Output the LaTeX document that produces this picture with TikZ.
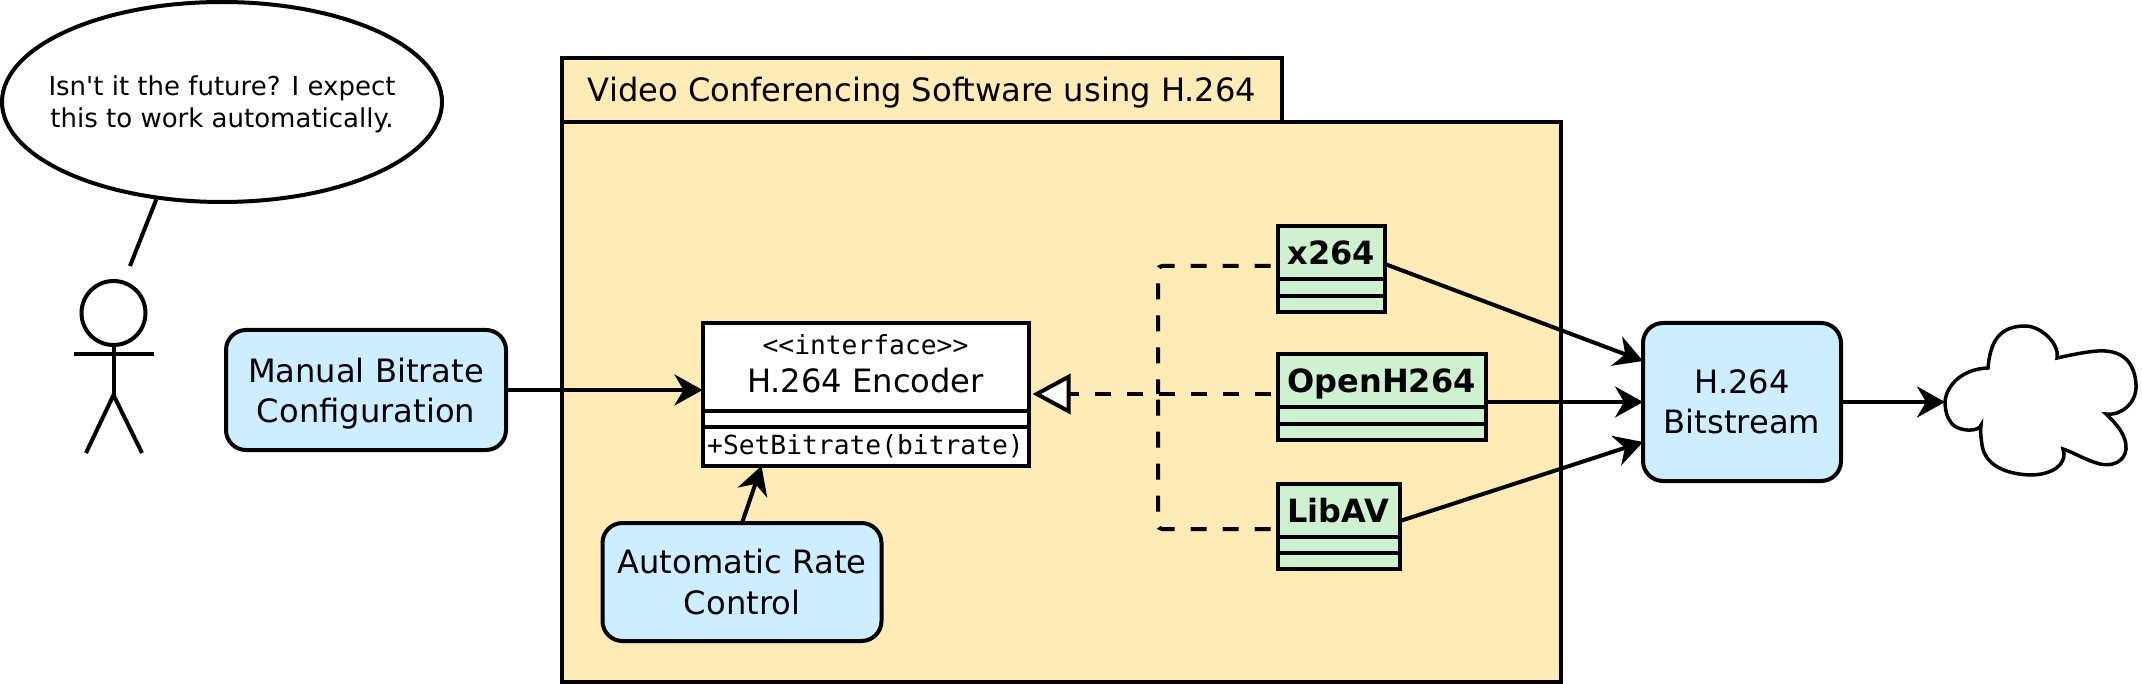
\documentclass[tikz,border=0pt]{standalone}
\usepackage{fontspec}
\setmainfont{DejaVu Sans}
\setmonofont{DejaVu Sans Mono}
\newfontfamily\speechfont{DejaVu Sans}
\usetikzlibrary{arrows.meta,shapes.geometric,shapes.multipart}

\definecolor{packfill}{HTML}{FEEBB5}
\definecolor{implfill}{HTML}{CEF2D0}
\definecolor{boxfill}{HTML}{CCEEFF}

\begin{document}
\begin{tikzpicture}[
    x = 1pt,
    y = -1pt,
    line width = 4pt,
    >={Stealth[length=28pt,width=31pt,inset=9pt]},
    label/.style = {
      font = \fontsize{32.15}{40.5}\selectfont
    },
    pack/.style = {
      draw,
      fill = packfill,
      anchor = north west,
      inner sep = 0pt,
      outer sep = 0pt,
      label
    },
    usecase/.style = {
      draw,
      fill = boxfill,
      rounded corners = 20pt,
      align = center,
      inner sep = 0pt,
      outer sep = 0pt,
      label
    },
    impl/.style = {
      draw,
      fill = implfill,
      anchor = north west,
      rectangle split,
      rectangle split parts = 3,
      rectangle split part align = left,
      rectangle split empty part height = 0pt,
      rectangle split empty part depth = 0pt,
      inner xsep = 10pt,
      inner ysep = 3.5pt,
      outer sep = 0pt,
      font = \fontsize{32}{40}\selectfont\bfseries
    },
    realize/.style = {
      dash pattern = on 16pt off 16pt,
      dash phase = 25pt,
      rounded corners = 4pt
    }
  ]
  \useasboundingbox (0,0) rectangle (2142,684);

  \node[pack, minimum width = 999pt, minimum height = 560pt] (body) at (562,122) {};
  \node[pack, minimum width = 720pt, minimum height = 64pt] (tab) at (562,58) {\rule{0pt}{30pt}Video Conferencing Software using H.264};

  \node[draw, ellipse, inner xsep = -25pt, inner ysep = 0pt, minimum width = 440pt, minimum height = 200pt, align = center,
    font = \fontsize{26}{32}\speechfont] (speech) at (222,102)
    {\rule{0pt}{24pt}Isn't it the future? I expect\\this to work automatically.};

  \node[draw, circle, inner sep = 0pt, outer sep = 0pt, minimum size = 64pt] (head) at (113.5,313) {};
  \coordinate (tail) at (130,266);
  \coordinate (armleft) at (74,354);
  \coordinate (armright) at (154,354);
  \coordinate (hip) at (113.5,395);
  \coordinate (footleft) at (86,453);
  \coordinate (footright) at (142,453);

  \draw (speech.236.8) -- (tail);
  \draw (armleft) -- (armright);
  \draw (head.south) -- (hip);
  \draw (footleft) -- (hip) -- (footright);

  \node[usecase, minimum width = 280pt, minimum height = 120pt] (manual) at (366,390) {\rule{0pt}{32pt}Manual Bitrate\\Configuration};
  \node[usecase, minimum width = 279pt, minimum height = 118pt] (auto) at (742,582) {Automatic Rate\\Control};
  \node[usecase, minimum width = 198pt, minimum height = 158pt] (bitstream) at (1742,402) {H.264\\Bitstream};

  \node[draw, fill = white, rectangle split, rectangle split parts = 3,
    rectangle split empty part height = 0pt, rectangle split empty part depth = 0pt,
    minimum width = 326pt, inner xsep = 0pt, inner ysep = 3.5pt, outer sep = 0pt,
    anchor = north west] (encoder) at (702.5,323.5)
    {\parbox{320pt}{\centering\fontsize{26.3}{39}\selectfont\ttfamily\rule{0pt}{25.5pt}<<interface>>\par
      \fontsize{32.15}{38}\selectfont\rmfamily H.264 Encoder\rule[-13pt]{0pt}{19pt}\par}
    \nodepart{two}
    \nodepart{three}\fontsize{26.3}{30}\selectfont\ttfamily\rule[-5.5pt]{0pt}{27.5pt}+SetBitrate(bitrate)};

  \node[impl, minimum width = 106.5pt] (x264) at (1277.5,226.5)
    {\rule[-9pt]{0pt}{42pt}x264 \nodepart{two} \nodepart{three}};
  \node[impl, minimum width = 206.5pt] (openh264) at (1277.5,354.5)
    {\rule[-9pt]{0pt}{42pt}OpenH264 \nodepart{two} \nodepart{three}};
  \node[impl, minimum width = 122.5pt] (libav) at (1277.5,483.5)
    {\rule[-9pt]{0pt}{42pt}LibAV \nodepart{two} \nodepart{three}};

  \coordinate (bus) at (1158,394);

  \draw[realize] ([yshift=-13pt]x264.text west) -| (bus);
  \draw[realize, shorten > = 4pt, -{Triangle[open,fill=white,length=38pt,width=40pt]}] (openh264.text west |- bus) -- (encoder.east |- bus);
  \draw[realize] ([yshift=-19pt]libav.text west) -| (bus);

  \draw[->] (manual.east) -- (manual.east -| encoder.west);
  \draw[->] (auto.north) -- ([xshift=59pt]encoder.south west);

  \draw[->] ([yshift=-11pt]x264.text east) -- ([yshift=41pt]bitstream.west);
  \draw[->] (bitstream.west -| openh264.east) -- (bitstream.west);
  \draw[->] ([yshift=-11pt]libav.text east) -- ([yshift=-40pt]bitstream.west);

  \coordinate (cloud) at (1945,401);
  \draw[->] (bitstream.east) -- (bitstream.east -| cloud);

  \draw[line width = 3.5pt, fill = white] (cloud)
    .. controls (1947,385) and (1962,369) .. (1988,368)
    .. controls (1990,345) and (1997,326) .. (2025,326)
    .. controls (2042,326) and (2060,345) .. (2057,358)
    .. controls (2075,354) and (2095,350) .. (2105,351)
    .. controls (2125,352) and (2135,365) .. (2136,385)
    .. controls (2137,402) and (2122,416) .. (2106,414)
    .. controls (2118,425) and (2127,437) .. (2126,449)
    .. controls (2125,461) and (2113,467) .. (2100,464)
    .. controls (2085,460) and (2075,453) .. (2063,449)
    .. controls (2068,462) and (2055,475) .. (2030,475)
    .. controls (2005,474) and (1985,465) .. (1982,445)
    .. controls (1981,438) and (1980,431) .. (1981,425)
    .. controls (1979,432) and (1960,432) .. (1952,424)
    .. controls (1947,418) and (1945,410) .. cycle;
\end{tikzpicture}
\end{document}
